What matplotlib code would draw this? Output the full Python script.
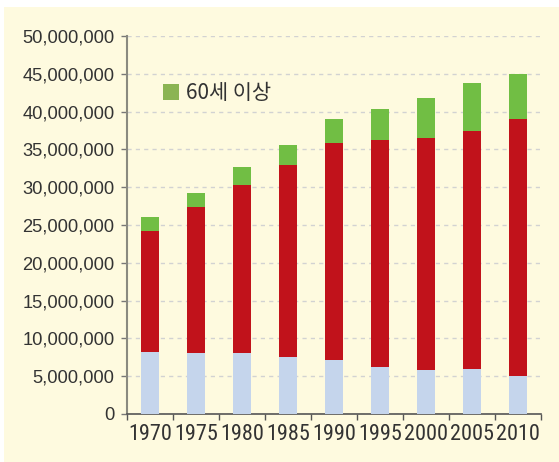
import matplotlib
matplotlib.use("Agg")
import matplotlib.pyplot as plt
from matplotlib.patches import Patch, Rectangle
from matplotlib.ticker import FuncFormatter, FixedLocator
from matplotlib import font_manager
import numpy as np

years = ["1970", "1975", "1980", "1985", "1990", "1995", "2000", "2005", "2010"]
# population in millions, by age group
age_0_14 = [8.20, 8.07, 8.07, 7.54, 7.14, 6.22, 5.82, 5.95, 5.03]
age_15_59 = [16.00, 19.33, 22.26, 25.40, 28.71, 30.02, 30.68, 31.48, 33.99]
age_60_up = [1.86, 1.87, 2.37, 2.64, 3.17, 4.10, 5.30, 6.35, 5.95]
legend_label = "60세 이상"

names = {f.name for f in font_manager.fontManager.ttflist}
narrow = "Liberation Sans"
for cand in ["Roboto Condensed", "Archivo Narrow", "PT Sans Narrow"]:
    if cand in names:
        narrow = cand
        break

fig = plt.figure(figsize=(5.59, 4.62), dpi=100, facecolor="white")
fig.patches.append(Rectangle((4 / 559, 0), 1, 1 - 7 / 462, transform=fig.transFigure,
                             facecolor="#FEFADF", edgecolor="none", zorder=-10))
ax = fig.add_axes([127 / 559, 1 - 414 / 462, 414 / 559, 378 / 462])
ax.set_facecolor("none")
ax.set_zorder(1)

x = np.arange(len(years))
a = np.array(age_0_14) * 1e6
b = np.array(age_15_59) * 1e6
c = np.array(age_60_up) * 1e6
w = 0.41
ax.bar(x, a, w, color="#C5D5EC", zorder=3)
ax.bar(x, b, w, bottom=a, color="#C1121B", zorder=3)
ax.bar(x, c, w, bottom=a + b, color="#71BE44", zorder=3)

ax.set_xlim(-0.5, len(years) - 0.5)
ax.set_ylim(0, 50e6)
ax.set_yticks(np.arange(0, 50e6 + 1, 5e6))
ax.yaxis.set_major_formatter(FuncFormatter(lambda v, p: f"{int(v):,}"))
ax.yaxis.grid(True, color="#D2D2D2", linestyle=(0, (3, 3)), linewidth=1, zorder=1)

ax.xaxis.set_major_locator(FixedLocator(np.arange(-0.5, len(years), 1.0)))
ax.xaxis.set_minor_locator(FixedLocator(x))
ax.set_xticklabels([])
ax.set_xticklabels(years, minor=True)
ax.tick_params(axis="x", which="major", length=4, color="#555555", width=1)
ax.tick_params(axis="x", which="minor", length=0, pad=7, labelsize=16, labelcolor="#333333")
ax.tick_params(axis="y", length=4, width=1, color="#777777", pad=5, labelsize=13.2,
               labelcolor="#333333")
for lbl in ax.get_xticklabels(minor=True):
    lbl.set_fontfamily([narrow, "DejaVu Sans"])
for lbl in ax.get_yticklabels():
    lbl.set_fontfamily("Liberation Sans")

for s in ["top", "right"]:
    ax.spines[s].set_visible(False)
ax.spines["left"].set_color("#8A8A80")
ax.spines["left"].set_linewidth(1.5)
ax.spines["bottom"].set_color("#555555")
ax.spines["bottom"].set_linewidth(1.2)

leg = ax.legend(handles=[Patch(facecolor="#8BB453", edgecolor="none", label=legend_label)],
                loc="upper left", bbox_to_anchor=(153 / 559, 1 - 72 / 462),
                bbox_transform=fig.transFigure, frameon=False, borderpad=0,
                handlelength=0.77, handleheight=0.77, handletextpad=0.3,
                prop={"family": ["Noto Sans CJK KR", "DejaVu Sans"], "size": 15})
for t in leg.get_texts():
    t.set_color("#333333")

fig.savefig("out.png", dpi=100, facecolor="white")
